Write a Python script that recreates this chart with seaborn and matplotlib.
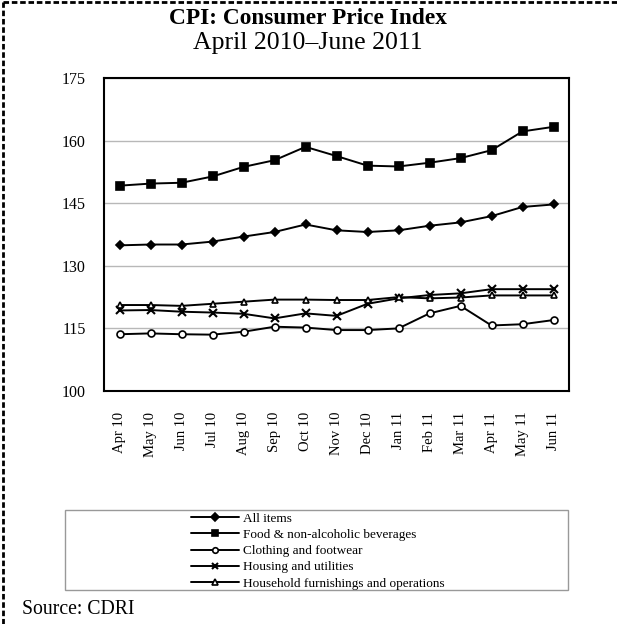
import matplotlib
matplotlib.use("Agg")
import matplotlib.pyplot as plt
import matplotlib.patches as mpatches
import matplotlib.lines as mlines
import numpy as np
import pandas as pd
import seaborn as sns

# Data
months = ["Apr 10", "May 10", "Jun 10", "Jul 10", "Aug 10", "Sep 10", "Oct 10", "Nov 10",
          "Dec 10", "Jan 11", "Feb 11", "Mar 11", "Apr 11", "May 11", "Jun 11"]
all_items = [134.9, 135.1, 135.1, 135.8, 137.0, 138.1, 139.9, 138.5, 138.1, 138.5,
             139.6, 140.4, 141.9, 144.1, 144.7]
food = [149.2, 149.7, 149.9, 151.4, 153.7, 155.3, 158.5, 156.3, 154.0, 153.8,
        154.7, 155.8, 157.7, 162.2, 163.3]
clothing = [113.6, 113.8, 113.6, 113.5, 114.2, 115.4, 115.2, 114.6, 114.6, 115.0,
            118.6, 120.4, 115.7, 116.0, 117.0]
housing = [119.3, 119.4, 119.0, 118.8, 118.5, 117.4, 118.6, 118.0, 120.9, 122.2,
           123.0, 123.4, 124.4, 124.4, 124.4]
household = [120.6, 120.6, 120.4, 120.9, 121.4, 121.9, 121.9, 121.8, 121.8, 122.5,
             122.2, 122.4, 122.9, 122.9, 122.9]

series_names = ["All items", "Food & non-alcoholic beverages", "Clothing and footwear",
                "Housing and utilities", "Household furnishings and operations"]
series_values = [all_items, food, clothing, housing, household]

rows = []
for name, vals in zip(series_names, series_values):
    for m, v in zip(months, vals):
        rows.append({"Month": m, "Index": v, "Series": name})
df = pd.DataFrame(rows)

sns.set_theme(style="white")
plt.rcParams['font.family'] = ['Liberation Serif', 'DejaVu Serif']
plt.rcParams['text.color'] = 'black'

fig = plt.figure(figsize=(6.17, 6.24), dpi=100)
ax = fig.add_axes([104 / 617, 1 - 391 / 624, (569 - 104) / 617, (391 - 78) / 624])

styles = {
    "All items": dict(marker="D", markersize=4.5, markerfacecolor="black"),
    "Food & non-alcoholic beverages": dict(marker="s", markersize=6, markerfacecolor="black"),
    "Clothing and footwear": dict(marker="o", markersize=5, markerfacecolor="white"),
    "Housing and utilities": dict(marker="x", markersize=6, markeredgewidth=1.5),
    "Household furnishings and operations": dict(marker="^", markersize=5, markerfacecolor="white"),
}

handles = []
for name in series_names:
    st = styles[name]
    sns.lineplot(data=df[df["Series"] == name], x="Month", y="Index", ax=ax,
                 color="black", linewidth=1.4, markeredgecolor="black",
                 markeredgewidth=st.get("markeredgewidth", 1.2),
                 marker=st["marker"], markersize=st["markersize"],
                 markerfacecolor=st.get("markerfacecolor", "black"),
                 label=name, legend=False)
    handles.append(mlines.Line2D([], [], color="black", linewidth=1.4,
                                 marker=st["marker"], markersize=st["markersize"] * 0.8,
                                 markerfacecolor=st.get("markerfacecolor", "black"),
                                 markeredgecolor="black",
                                 markeredgewidth=st.get("markeredgewidth", 1.2)))

ax.set_ylim(100, 175)
ax.set_yticks([100, 115, 130, 145, 160, 175])
ax.set_xlim(-0.5, len(months) - 0.5)
ax.set_xlabel("")
ax.set_ylabel("")
ax.yaxis.grid(True, color="#b8b8b8", linewidth=1)
ax.set_axisbelow(True)
for s in ax.spines.values():
    s.set_color("black")
    s.set_linewidth(1.5)

ax.set_xticks(range(len(months)))
ax.set_xticklabels(months, rotation=90, fontsize=10.5)
ax.set_xticks(np.arange(-0.5, len(months), 1), minor=True)
ax.tick_params(axis="x", which="major", length=0, pad=15, colors="black")
ax.tick_params(axis="x", which="minor", length=4, width=0.8, color="#888888", direction="out")
ax.tick_params(axis="y", length=4, width=0.8, color="#888888", direction="out",
               labelsize=11.5, labelcolor="black", pad=9)

# Titles
fig.text(308 / 617, 1 - 19 / 624, "CPI: Consumer Price Index", ha="center", va="center",
         fontsize=16.8, fontweight="bold")
fig.text(308 / 617, 1 - 43 / 624, "April 2010\u2013June 2011", ha="center", va="center",
         fontsize=18.5)

# Legend box
rect = mpatches.Rectangle((65 / 617, 1 - 590 / 624), (568 - 65) / 617, (590 - 510) / 624,
                          transform=fig.transFigure, fill=False, edgecolor="#999999",
                          linewidth=1)
fig.patches.append(rect)
fig.legend(handles, series_names, loc="center", bbox_to_anchor=(318 / 617, 1 - 551 / 624),
           frameon=False, fontsize=9.5, handlelength=3.6, labelspacing=0.3,
           handletextpad=0.3, borderpad=0)

fig.text(22 / 617, 1 - 609 / 624, "Source: CDRI", ha="left", va="center", fontsize=14.2)

# dashed outer frame (top and left)
fig.add_artist(mlines.Line2D([3 / 617, 1], [1 - 2 / 624, 1 - 2 / 624], transform=fig.transFigure,
                             color="black", linewidth=2, linestyle=(0, (2, 1))))
fig.add_artist(mlines.Line2D([3 / 617, 3 / 617], [0, 1 - 2 / 624], transform=fig.transFigure,
                             color="black", linewidth=2, linestyle=(0, (2, 1))))

fig.savefig("out.png", dpi=100, facecolor="white")
